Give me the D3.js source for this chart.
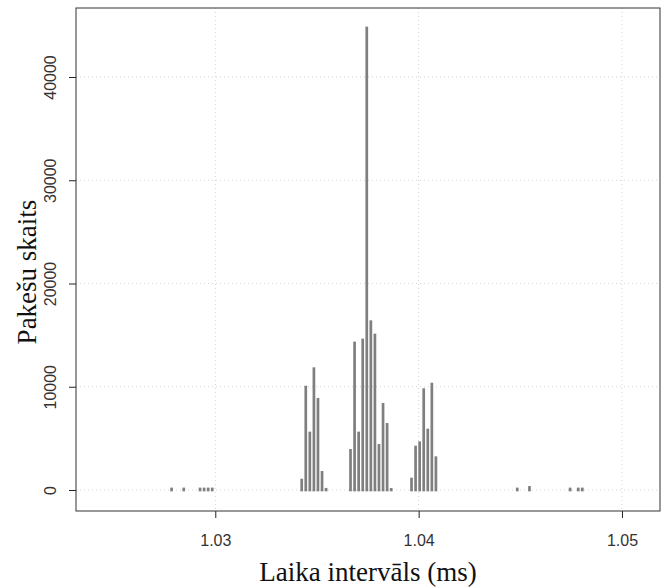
<!DOCTYPE html>
<html>
<head>
<meta charset="utf-8">
<script src="https://cdn.jsdelivr.net/npm/d3@7"></script>
<style>
  html, body { margin: 0; padding: 0; background: #fff; }
  svg { display: block; }
</style>
</head>
<body>
<svg id="chart" width="669" height="587"></svg>
<script>
// Interval values (ms) and packet counts
const intervals = [
  1.02785, 1.02845, 1.02925, 1.02945, 1.02965, 1.02985,
  1.03425, 1.03445, 1.03465, 1.03485, 1.03505, 1.03525, 1.03545,
  1.03665, 1.03685, 1.03705, 1.03725, 1.03745, 1.03765, 1.03785, 1.03805, 1.03825, 1.03845, 1.03865,
  1.03965, 1.03985, 1.04005, 1.04025, 1.04045, 1.04065, 1.04085,
  1.04485, 1.04545, 1.04745, 1.04785, 1.04805
];
const counts = [
  100, 100, 100, 100, 100, 100,
  960, 9970, 5520, 11750, 8780, 1710, 70,
  3840, 14240, 5520, 14530, 44750, 16300, 15010, 4320, 8300, 6360, 60,
  1060, 4160, 4580, 9720, 5810, 10260, 3130,
  100, 250, 100, 100, 100
];
const xTicks = [1.03, 1.04, 1.05];
const xTickLabels = ["1.03", "1.04", "1.05"];
const yTicks = [0, 10000, 20000, 30000, 40000];
const yTickLabels = ["0", "10000", "20000", "30000", "40000"];
const xTitle = "Laika intervāls (ms)";
const yTitle = "Pakešu skaits";

const svg = d3.select("#chart");
const L = 76, T = 8, R = 660, B = 511;

const x = d3.scaleLinear().domain([1.02315, 1.05187]).range([L, R]);
const y = d3.scaleLinear().domain([-2034, 46683]).range([B, T]);

// grid
const grid = svg.append("g");
grid.selectAll("line.gx").data(xTicks).enter().append("line")
  .attr("x1", d => x(d)).attr("x2", d => x(d)).attr("y1", T).attr("y2", B)
  .attr("stroke", "#d3d3d3").attr("stroke-dasharray", "1,3");
grid.selectAll("line.gy").data(yTicks).enter().append("line")
  .attr("x1", L).attr("x2", R).attr("y1", d => y(d)).attr("y2", d => y(d))
  .attr("stroke", "#d3d3d3").attr("stroke-dasharray", "1,3");

// bars (type="h" with square caps)
const bw = 2.7, cap = bw / 2;
const data = intervals.map((v, i) => ({ v, c: counts[i] }));
svg.append("g").selectAll("rect").data(data).enter().append("rect")
  .attr("x", d => x(d.v) - bw / 2)
  .attr("width", bw)
  .attr("y", d => y(d.c) - cap)
  .attr("height", d => y(0) - y(d.c) + 2 * cap)
  .attr("fill", "#7f7f7f");

// axes
const xAxis = d3.axisBottom(x).tickValues(xTicks).tickFormat((d, i) => xTickLabels[i]).tickSize(7).tickPadding(17);
const gx = svg.append("g").attr("transform", `translate(0,${B})`).call(xAxis);
gx.select(".domain").remove();
gx.selectAll("text").attr("font-family", "Liberation Sans, Arial, sans-serif").attr("font-size", 16).attr("fill", "#333");
gx.selectAll("line").attr("stroke", "#222");

const yAxis = d3.axisLeft(y).tickValues(yTicks).tickFormat((d, i) => yTickLabels[i]).tickSize(7);
const gy = svg.append("g").attr("transform", `translate(${L},0)`).call(yAxis);
gy.select(".domain").remove();
gy.selectAll("line").attr("stroke", "#222");
gy.selectAll("text")
  .attr("font-family", "Liberation Sans, Arial, sans-serif").attr("font-size", 16).attr("fill", "#333")
  .attr("text-anchor", "middle").attr("x", 0).attr("y", 0).attr("dy", null)
  .attr("transform", "translate(-20,0) rotate(-90)");

// box
svg.append("rect").attr("x", L).attr("y", T).attr("width", R - L).attr("height", B - T)
  .attr("fill", "none").attr("stroke", "#333").attr("stroke-width", 1);

// titles
svg.append("text").attr("x", (L + R) / 2).attr("y", 581).attr("text-anchor", "middle")
  .attr("font-family", "Liberation Serif, Times New Roman, serif").attr("font-size", 27).attr("fill", "#111")
  .text(xTitle);
svg.append("text").attr("transform", `translate(36,272) rotate(-90)`).attr("text-anchor", "middle")
  .attr("font-family", "Liberation Serif, Times New Roman, serif").attr("font-size", 27).attr("fill", "#111")
  .text(yTitle);
</script>
</body>
</html>
